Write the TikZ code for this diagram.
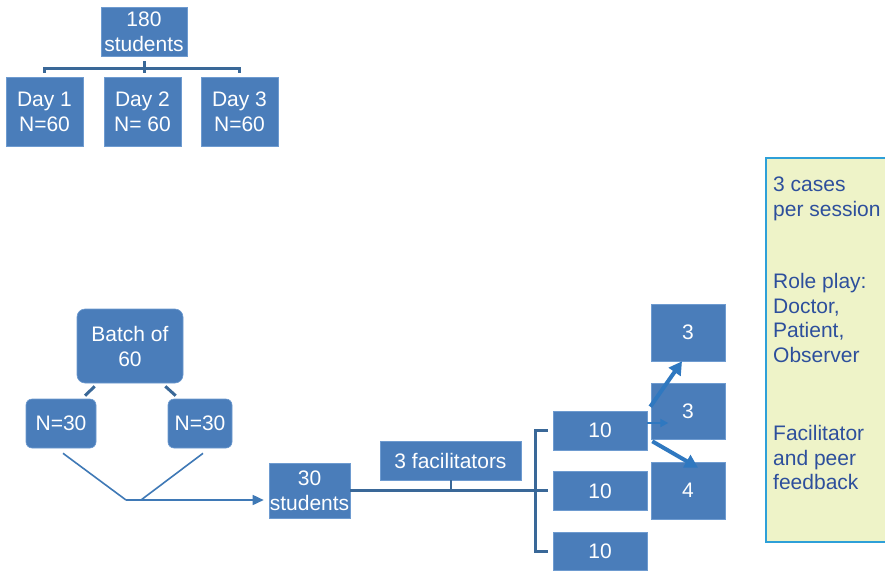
\documentclass[tikz,border=0pt]{standalone}
\usepackage{fontspec}
\setmainfont{Liberation Sans}
\usetikzlibrary{calc,arrows.meta}
\definecolor{boxblue}{HTML}{4A7DBA}
\definecolor{boxedge}{HTML}{6E9BD0}
\definecolor{linkblue}{HTML}{3A6898}
\definecolor{thinblue}{HTML}{3F79B6}
\definecolor{arrowblue}{HTML}{2F78C0}
\definecolor{notefill}{HTML}{EEF3C8}
\definecolor{noteedge}{HTML}{2EA0D8}
\definecolor{notetext}{HTML}{2D4F9C}
\tikzset{
  box/.style={fill=boxblue, draw=boxedge, line width=0.6pt, text=white,
    align=center, inner sep=0pt,
    font=\fontsize{21}{25}\selectfont},
  rbox/.style={box, rounded corners=6pt},
  conn/.style={draw=linkblue, line width=3pt},
  thin/.style={draw=thinblue, line width=1.6pt},
  flow/.style={draw=arrowblue, line width=4pt,
    -{Triangle[length=13pt,width=14pt]}},
}
\begin{document}
\begin{tikzpicture}[x=1pt,y=-1pt]
\clip (0,0) rectangle (885,570);
\fill[white] (0,0) rectangle (885,570);

% cohort split by day
\node[box, minimum width=86pt, minimum height=49pt] (top) at (144,31.5) {180\\students};
\node[box, minimum width=77pt, minimum height=69pt] (d1) at (44.5,111.5) {Day 1\\N=60};
\node[box, minimum width=77pt, minimum height=69pt] (d2) at (142.5,111.5) {Day 2\\N= 60};
\node[box, minimum width=77pt, minimum height=69pt] (d3) at (239.5,111.5) {Day 3\\N=60};
\draw[conn] ([yshift=4pt]d1.north) -- ([yshift=8pt]d1.north) -| ([yshift=4pt]d3.north);
\draw[conn] ([yshift=-5pt]top.south) -- ([yshift=4pt]top.south |- d2.north);

% one batch split into halves
\node[rbox, rounded corners=8pt, minimum width=106pt, minimum height=74pt] (batch) at (130,346) {Batch of\\60};
\node[rbox, minimum width=70pt, minimum height=49pt] (na) at (61,423.5) {N=30};
\node[rbox, minimum width=64pt, minimum height=49pt] (nb) at (200,423.5) {N=30};
\draw[conn] ($(batch.south west)+(18,3)$) -- ($(na.north)+(24,-3)$);
\draw[conn] ($(batch.south east)+(-18,3)$) -- ($(nb.north west)+(8,-3)$);

% halves merge into a group of 30
\node[box, minimum width=81pt, minimum height=55pt] (s30) at (309.5,490.5) {30\\students};
\coordinate (m1) at (126,500);
\coordinate (m2) at (141,500);
\draw[thin] ($(na.south)+(2,5)$) -- (m1);
\draw[thin] ($(nb.south)+(3,5)$) -- (m2);
\draw[thin, -{Triangle[length=11pt,width=10pt]}, shorten >=5pt] (m1) -- ($(s30.west)+(0,9.5)$);

% facilitators and groups of 10
\node[box, minimum width=141pt, minimum height=39pt] (fac) at (450.5,460.5) {3 facilitators};
\node[box, minimum width=94pt, minimum height=39pt] (t1) at (600,430.5) {10};
\node[box, minimum width=94pt, minimum height=39pt] (t2) at (600,491) {10};
\node[box, minimum width=94pt, minimum height=38pt] (t3) at (600,551) {10};
\draw[conn] (s30.east) -- ([xshift=-5pt]s30.east -| t2.west);
\draw[conn] ([xshift=-5pt]t1.west) -- ([xshift=-17pt]t1.west) -- ([xshift=-17pt]t3.west) -- ([xshift=-5pt]t3.west);
\draw[line width=2pt, draw=linkblue] (fac.south) -- (fac.south |- s30.east);

% roles within a group of 10
\node[box, minimum width=74pt, minimum height=57pt] (r1) at (688,332.5) {3};
\node[box, minimum width=74pt, minimum height=56pt] (r2) at (688,411) {3};
\node[box, minimum width=74pt, minimum height=57pt] (r3) at (688,490.5) {4};
\draw[flow] ($(t1.north east)+(3,-4)$) -- ($(r1.south)+(-6,0)$);
\draw[draw=arrowblue, line width=1.8pt, -{Triangle[length=8pt,width=8pt]}] ($(t1.east)+(0,-7.5)$) -- ($(t1.east)+(21,-7.5)$);
\draw[flow] ($(t1.south east)+(5,-9)$) -- ($(r3.north)+(10,6)$);

% session notes
\node[draw=noteedge, line width=2pt, fill=notefill, minimum width=130pt, minimum height=384pt, anchor=north west, inner sep=0pt] (note) at (765,157) {};
\node[anchor=north west, align=left, inner sep=0pt, text=notetext,
  font=\fontsize{21}{24.5}\selectfont] (notetxt) at (773,177)
  {3 cases\\per session\\[48pt]Role play:\\Doctor,\\Patient,\\Observer\\[54pt]Facilitator\\and peer\\feedback};
\end{tikzpicture}
\end{document}
